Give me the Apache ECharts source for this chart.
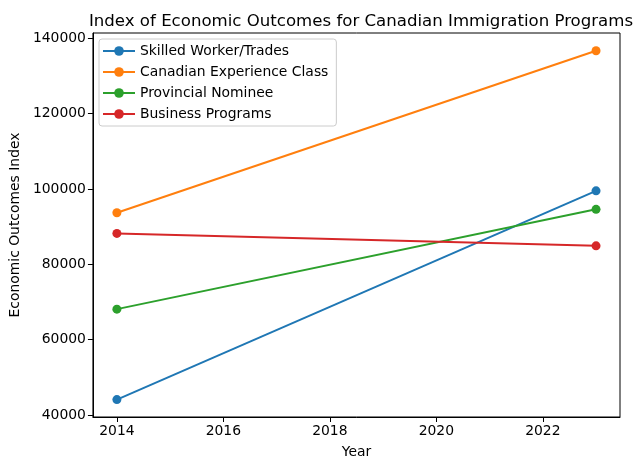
<!DOCTYPE html>
<html>
<head>
<meta charset="utf-8">
<script src="https://cdn.jsdelivr.net/npm/echarts@6/dist/echarts.min.js"></script>
<style>html,body{margin:0;padding:0;background:#fff}#c{width:638px;height:470px}</style>
</head>
<body>
<div id="c"></div>
<script>
const years = [2014, 2023];
const skilled = [44100, 99500];
const cec = [93700, 136700];
const provincial = [68100, 94600];
const business = [88200, 84900];
const seriesNames = ['Skilled Worker/Trades', 'Canadian Experience Class', 'Provincial Nominee', 'Business Programs'];
const seriesData = [skilled, cec, provincial, business];
const colors = ['#1f77b4', '#ff7f0e', '#2ca02c', '#d62728'];
const xTicks = [2014, 2016, 2018, 2020, 2022];
const yTicks = [40000, 60000, 80000, 100000, 120000, 140000];

const font = 'DejaVu Sans';
const chart = echarts.init(document.getElementById('c'), null, {renderer: 'canvas'});
chart.setOption({
  animation: false,
  backgroundColor: '#fff',
  color: colors,
  title: {
    text: 'Index of Economic Outcomes for Canadian Immigration Programs',
    left: 356, top: 8, textAlign: 'center',
    textStyle: {fontFamily: font, fontSize: 16.6, fontWeight: 'normal', color: '#000'}
  },
  legend: {
    left: 99, top: 39, orient: 'vertical',
    itemWidth: 32, itemHeight: 12, itemGap: 7,
    padding: [5, 8, 5, 3],
    borderColor: '#cccccc', borderWidth: 1, borderRadius: 3,
    backgroundColor: 'rgba(255,255,255,0.8)',
    textStyle: {fontFamily: font, fontSize: 13.9, color: '#000'},
    data: seriesNames
  },
  grid: {left: 92, right: 18, top: 33, bottom: 53, show: true, borderColor: '#000', borderWidth: 1, backgroundColor: 'transparent'},
  xAxis: {
    type: 'value', min: 2013.55, max: 2023.45,
    name: 'Year', nameLocation: 'middle', nameGap: 28,
    nameTextStyle: {fontFamily: font, fontSize: 13.9, color: '#000'},
    axisLine: {show: true, lineStyle: {color: '#000', width: 1}},
    axisTick: {show: true, length: 5, lineStyle: {color: '#000'}, customValues: xTicks},
    axisLabel: {fontFamily: font, fontSize: 13.9, color: '#000', margin: 7, customValues: xTicks, formatter: v => String(v)},
    splitLine: {show: false}
  },
  yAxis: {
    type: 'value', min: 39470, max: 141400,
    name: 'Economic Outcomes Index', nameLocation: 'middle', nameGap: 68,
    nameTextStyle: {fontFamily: font, fontSize: 13.9, color: '#000'},
    axisLine: {show: true, lineStyle: {color: '#000', width: 1}},
    axisTick: {show: true, length: 5, lineStyle: {color: '#000'}, customValues: yTicks},
    axisLabel: {fontFamily: font, fontSize: 13.9, color: '#000', margin: 7, customValues: yTicks, formatter: v => String(v)},
    splitLine: {show: false}
  },
  series: seriesNames.map((n, i) => ({
    name: n, type: 'line',
    data: years.map((y, j) => [y, seriesData[i][j]]),
    symbol: 'circle', symbolSize: 9,
    lineStyle: {width: 2, color: colors[i]},
    itemStyle: {color: colors[i]}
  }))
});
</script>
</body>
</html>
